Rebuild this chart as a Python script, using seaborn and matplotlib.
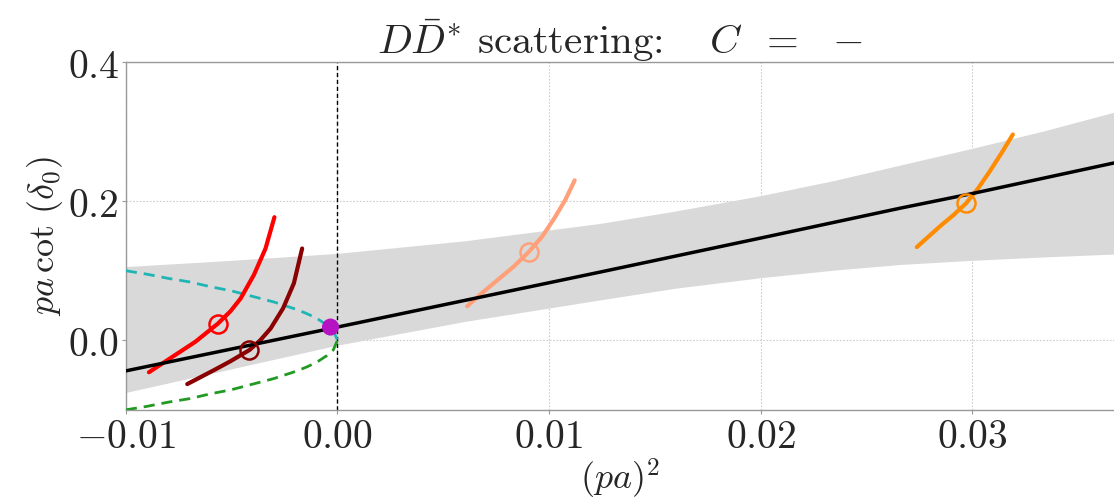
import numpy as np
import pandas as pd
import matplotlib
matplotlib.use("Agg")
import matplotlib.pyplot as plt
import seaborn as sns

# ---- data ----
fit_x = [-0.0100, 0.0000, 0.0124, 0.0200, 0.0266, 0.0300, 0.0367]
fit_y = [-0.044, 0.019, 0.098, 0.147, 0.190, 0.211, 0.255]
band_x = [-0.0100, -0.0050, 0.0000, 0.0060, 0.0124, 0.0160, 0.0200, 0.0235,
          0.0266, 0.0300, 0.0335, 0.0367]
band_lo = [-0.075, -0.041, -0.007, 0.027, 0.058, 0.075, 0.090, 0.101,
           0.109, 0.115, 0.120, 0.124]
band_hi = [0.106, 0.115, 0.125, 0.143, 0.168, 0.186, 0.208, 0.230,
           0.252, 0.276, 0.302, 0.328]

bound_x = [-0.0100, -0.0090, -0.0080, -0.0070, -0.0060, -0.0050, -0.0040,
           -0.0030, -0.0020, -0.0015, -0.0010, -0.0005, -0.0002, 0.0000]
bound_up = [0.100, 0.095, 0.089, 0.084, 0.077, 0.071, 0.063,
            0.055, 0.045, 0.039, 0.032, 0.022, 0.014, 0.000]
bound_dn = [-0.100, -0.095, -0.089, -0.084, -0.077, -0.071, -0.063,
            -0.055, -0.045, -0.039, -0.032, -0.022, -0.014, 0.000]

pole_x = [-0.00033]
pole_y = [0.019]

lv1_x = [-0.00891, -0.00781, -0.00671, -0.00565, -0.00505, -0.00458, -0.00395, -0.00340, -0.00298]
lv1_y = [-0.046, -0.024, -0.002, 0.024, 0.042, 0.060, 0.094, 0.132, 0.177]
lv2_x = [-0.00710, -0.00584, -0.00505, -0.00416, -0.00365, -0.00316, -0.00257, -0.00206, -0.00167]
lv2_y = [-0.063, -0.043, -0.030, -0.014, 0.000, 0.017, 0.046, 0.082, 0.132]
lv3_x = [0.00613, 0.00683, 0.00754, 0.00833, 0.00904, 0.00967, 0.01022, 0.01077, 0.01121]
lv3_y = [0.049, 0.068, 0.086, 0.106, 0.127, 0.149, 0.174, 0.202, 0.230]
lv4_x = [0.02738, 0.02793, 0.02848, 0.02911, 0.02971, 0.03029, 0.03085, 0.03140, 0.03192]
lv4_y = [0.134, 0.149, 0.164, 0.180, 0.197, 0.219, 0.244, 0.270, 0.296]

centre_x = [-0.00565, -0.00416, 0.00904, 0.02971]
centre_y = [0.024, -0.014, 0.127, 0.197]
level_colors = ["#ff0000", "#8b0000", "#ffa07a", "#ff8c00"]

x_ticks = [-0.01, 0.00, 0.01, 0.02, 0.03]
x_tick_labels = ["$-0.01$", "$0.00$", "$0.01$", "$0.02$", "$0.03$"]
y_ticks = [0.0, 0.2, 0.4]
y_tick_labels = ["$0.0$", "$0.2$", "$0.4$"]

# ---- style ----
sns.set_theme(style="white")
plt.rcParams["mathtext.fontset"] = "cm"
plt.rcParams["axes.formatter.use_mathtext"] = True
plt.rcParams["font.family"] = ["DejaVu Sans"]

fig = plt.figure(figsize=(11.14, 5.01), dpi=100)
ax = fig.add_axes([0.113, 0.182, 0.887, 0.694])

ax.fill_between(band_x, band_lo, band_hi, color="#d9d9d9", lw=0, zorder=1)

sns.lineplot(x=bound_x, y=bound_up, ax=ax, color="#20b5b5", lw=2, ls=(0, (4, 2.5)),
             sort=False, estimator=None, zorder=3)
sns.lineplot(x=bound_x, y=bound_dn, ax=ax, color="#229922", lw=2, ls=(0, (4, 2.5)),
             sort=False, estimator=None, zorder=3)

levels = [(lv1_x, lv1_y), (lv2_x, lv2_y), (lv3_x, lv3_y), (lv4_x, lv4_y)]
for (lx, ly), c in zip(levels, level_colors):
    sns.lineplot(x=lx, y=ly, ax=ax, color=c, lw=3, sort=False, estimator=None, zorder=4)

sns.lineplot(x=fit_x, y=fit_y, ax=ax, color="black", lw=2.5, sort=False,
             estimator=None, zorder=5)

for cx, cy, c in zip(centre_x, centre_y, level_colors):
    ax.plot([cx], [cy], marker="o", ms=13, mfc="none", mec=c, mew=1.8, zorder=6)

sns.scatterplot(x=pole_x, y=pole_y, ax=ax, color="#b512c4", s=150, edgecolor="none",
                zorder=7)

ax.axvline(0.0, color="black", lw=1, ls=(0, (3, 2)), zorder=2)

ax.set_xlim(-0.01, 0.0367)
ax.set_ylim(-0.1, 0.4)
ax.set_xticks(x_ticks)
ax.set_xticklabels(x_tick_labels)
ax.set_yticks(y_ticks)
ax.set_yticklabels(y_tick_labels)
ax.tick_params(axis="both", labelsize=28.5, length=3, width=0.8, color="#999999",
               direction="out", left=True, bottom=True, pad=2)
ax.grid(True, color="#cccccc", ls=(0, (1.5, 1.5)), lw=0.8)
ax.set_axisbelow(True)
for s in ["left", "bottom", "top"]:
    ax.spines[s].set_color("#999999")
    ax.spines[s].set_linewidth(1.0)
ax.spines["right"].set_visible(False)

ax.set_xlabel(r"$(pa)^2$", fontsize=26, labelpad=0)
ax.set_ylabel(r"$pa\,\cot\,(\delta_0)$", fontsize=26, labelpad=2)
ax.set_title(r"$D\bar{D}^{*}$ scattering:$\quad\;C\;\;=\;\;-$", fontsize=29.5, pad=6,
             family="cmr10")

fig.savefig("out.png", dpi=100)
